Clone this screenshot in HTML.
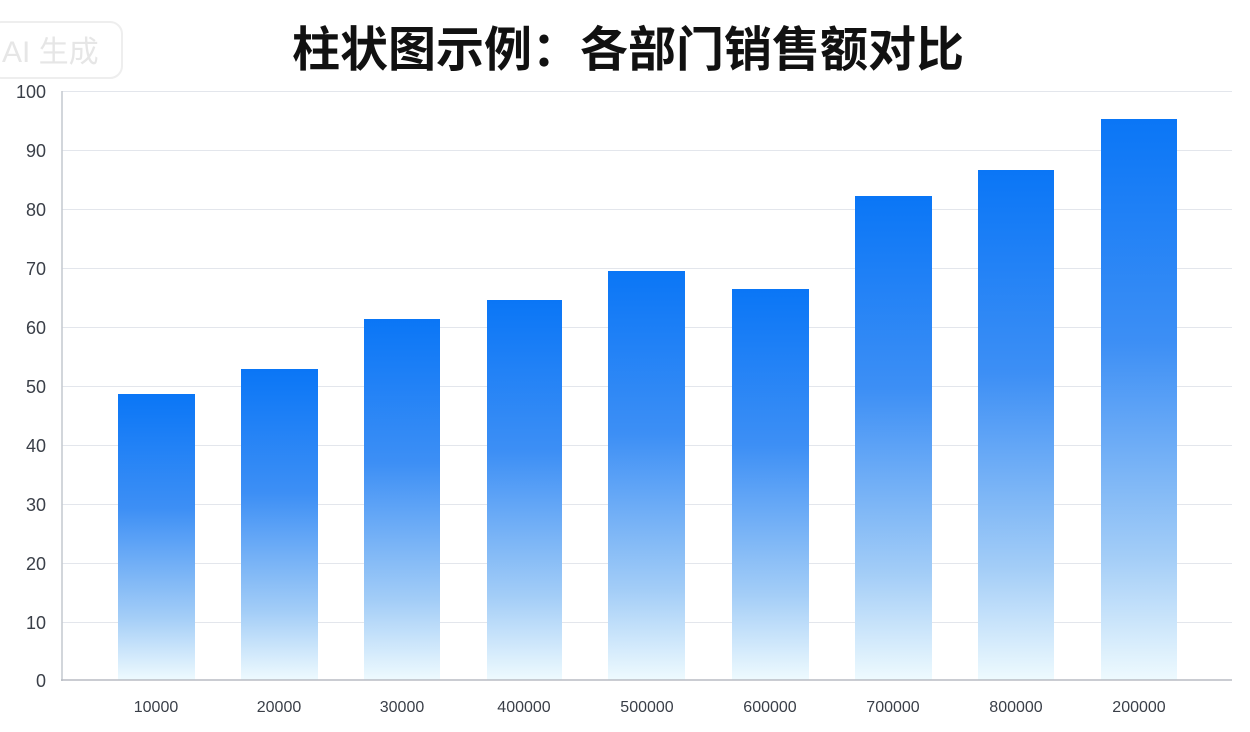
<!DOCTYPE html>
<html><head><meta charset="utf-8"><style>
html,body{margin:0;padding:0;background:#fff;width:1250px;height:732px;overflow:hidden}
</style></head><body>
<svg width="1250" height="732" xmlns="http://www.w3.org/2000/svg" font-family="Liberation Sans, Noto Sans CJK SC, sans-serif">
<defs>
<linearGradient id="b" x1="0" y1="0" x2="0" y2="1">
<stop offset="0" stop-color="#0a76f6"/>
<stop offset="0.4" stop-color="#3d8ff5"/>
<stop offset="0.78" stop-color="#a3cdf7"/>
<stop offset="1" stop-color="#eefafe"/>
</linearGradient>
</defs>
<rect x="-10" y="22" width="132" height="56" rx="12" fill="#fff" stroke="#eeeeee" stroke-width="2"/>
<text x="2" y="62" font-size="30" fill="#e6e6e6">AI 生成</text>
<text x="628" y="66" text-anchor="middle" font-size="48" font-weight="bold" fill="#111" font-family="Noto Sans CJK SC, sans-serif">柱状图示例：各部门销售额对比</text>
<g stroke="#e3e6ec" stroke-width="1">
<line x1="62" y1="91.5" x2="1232" y2="91.5"/>
<line x1="62" y1="150.5" x2="1232" y2="150.5"/>
<line x1="62" y1="209.5" x2="1232" y2="209.5"/>
<line x1="62" y1="268.5" x2="1232" y2="268.5"/>
<line x1="62" y1="327.5" x2="1232" y2="327.5"/>
<line x1="62" y1="386.5" x2="1232" y2="386.5"/>
<line x1="62" y1="445.5" x2="1232" y2="445.5"/>
<line x1="62" y1="504.5" x2="1232" y2="504.5"/>
<line x1="62" y1="563.5" x2="1232" y2="563.5"/>
<line x1="62" y1="622.5" x2="1232" y2="622.5"/>
</g>
<g fill="url(#b)">
<rect x="118" y="394" width="77" height="286"/>
<rect x="241" y="369" width="77" height="311"/>
<rect x="364" y="319" width="76" height="361"/>
<rect x="487" y="300" width="75" height="380"/>
<rect x="608" y="271" width="77" height="409"/>
<rect x="732" y="289" width="77" height="391"/>
<rect x="855" y="196" width="77" height="484"/>
<rect x="978" y="170" width="76" height="510"/>
<rect x="1101" y="119" width="76" height="561"/>
</g>
<line x1="62" y1="91" x2="62" y2="681" stroke="#c4c8cf" stroke-width="1.5"/>
<line x1="61" y1="680" x2="1232" y2="680" stroke="#b8bcc3" stroke-width="1.5"/>
<g font-size="18" fill="#3a3f48" text-anchor="end">
<text x="46" y="98">100</text>
<text x="46" y="157">90</text>
<text x="46" y="216">80</text>
<text x="46" y="275">70</text>
<text x="46" y="334">60</text>
<text x="46" y="393">50</text>
<text x="46" y="452">40</text>
<text x="46" y="511">30</text>
<text x="46" y="570">20</text>
<text x="46" y="629">10</text>
<text x="46" y="687">0</text>
</g>
<g font-size="16" fill="#3a3f48" text-anchor="middle">
<text x="156" y="712">10000</text>
<text x="279" y="712">20000</text>
<text x="402" y="712">30000</text>
<text x="524" y="712">400000</text>
<text x="647" y="712">500000</text>
<text x="770" y="712">600000</text>
<text x="893" y="712">700000</text>
<text x="1016" y="712">800000</text>
<text x="1139" y="712">200000</text>
</g>
</svg>
</body></html>
